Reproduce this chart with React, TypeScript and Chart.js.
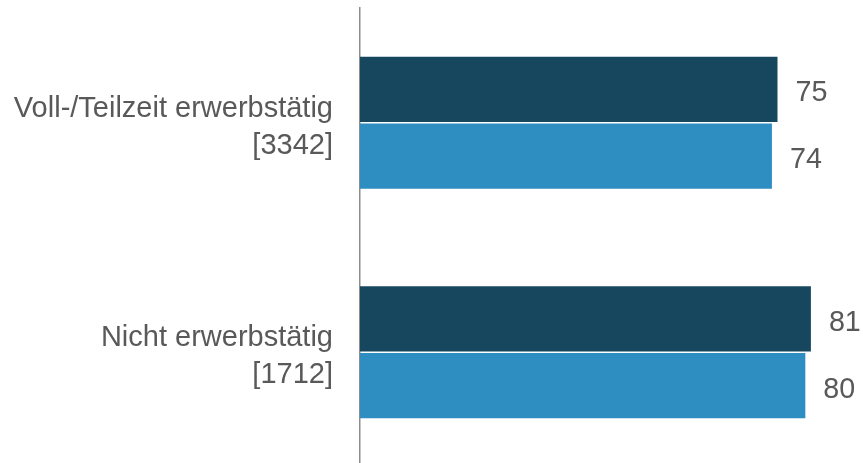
import React, { useEffect, useRef } from "react";
import { Chart, registerables } from "chart.js";

Chart.register(...registerables);

const categories: string[][] = [
  ["Voll-/Teilzeit erwerbstätig", "[3342]"],
  ["Nicht erwerbstätig", "[1712]"],
];
const seriesDark: number[] = [75, 81];
const seriesLight: number[] = [74, 80];
const seriesNames: string[] = ["Gruppe 1", "Gruppe 2"];

const FONT = '"Liberation Sans", Arial, sans-serif';
const TEXT_COLOR = "#595959";

const valueLabels = {
  id: "valueLabels",
  afterDatasetsDraw(chart: any) {
    const ctx = chart.ctx;
    ctx.save();
    ctx.font = `28.7px ${FONT}`;
    ctx.fillStyle = TEXT_COLOR;
    ctx.textAlign = "left";
    ctx.textBaseline = "alphabetic";
    chart.data.datasets.forEach((ds: any, i: number) => {
      const meta = chart.getDatasetMeta(i);
      meta.data.forEach((bar: any, j: number) => {
        ctx.fillText(String(ds.data[j]), bar.x + 18, bar.y + 12);
      });
    });
    ctx.restore();
  },
};

const categoryLabels = {
  id: "categoryLabels",
  afterDraw(chart: any) {
    const ctx = chart.ctx;
    const y = chart.scales.y;
    ctx.save();
    ctx.font = `29px ${FONT}`;
    ctx.fillStyle = TEXT_COLOR;
    ctx.textAlign = "right";
    ctx.textBaseline = "alphabetic";
    const x = chart.chartArea.left - 27;
    (chart.data.labels as string[][]).forEach((lines, i) => {
      const cy = y.getPixelForValue(i);
      ctx.fillText(lines[0], x, cy - 6);
      ctx.fillText(lines[1], x, cy + 31);
    });
    ctx.restore();
  },
};

export default function App() {
  const ref = useRef<HTMLCanvasElement | null>(null);
  useEffect(() => {
    if (!ref.current) return;
    const chart = new Chart(ref.current, {
      type: "bar",
      data: {
        labels: categories,
        datasets: [
          {
            label: seriesNames[0],
            data: seriesDark,
            backgroundColor: "#17475f",
            borderWidth: 0,
            barPercentage: 0.98,
            categoryPercentage: 0.58,
          },
          {
            label: seriesNames[1],
            data: seriesLight,
            backgroundColor: "#2e8ec2",
            borderWidth: 0,
            barPercentage: 0.98,
            categoryPercentage: 0.58,
          },
        ],
      },
      options: {
        indexAxis: "y",
        animation: false,
        responsive: false,
        maintainAspectRatio: false,
        layout: { padding: { top: 8, left: 0, right: 2, bottom: 0 } },
        plugins: {
          legend: { display: false },
          tooltip: { enabled: false },
          title: { display: false },
        },
        scales: {
          x: {
            display: false,
            min: 0,
            max: 90,
          },
          y: {
            grid: { display: false, drawTicks: false },
            border: { display: true, color: "#8c8c8c", width: 1.5 },
            ticks: { display: false },
            afterFit: (scale: any) => {
              scale.width = 360;
              scale.paddingTop = 0;
              scale.paddingBottom = 0;
            },
          },
        },
      },
      plugins: [valueLabels, categoryLabels],
    });
    return () => chart.destroy();
  }, []);
  return (
    <div style={{ position: "fixed", left: 0, top: 0, width: 863, height: 463, overflow: "hidden", background: "#fff" }}>
      <canvas ref={ref} width={863} height={467} style={{ width: 863, height: 467, display: "block" }} />
    </div>
  );
}
